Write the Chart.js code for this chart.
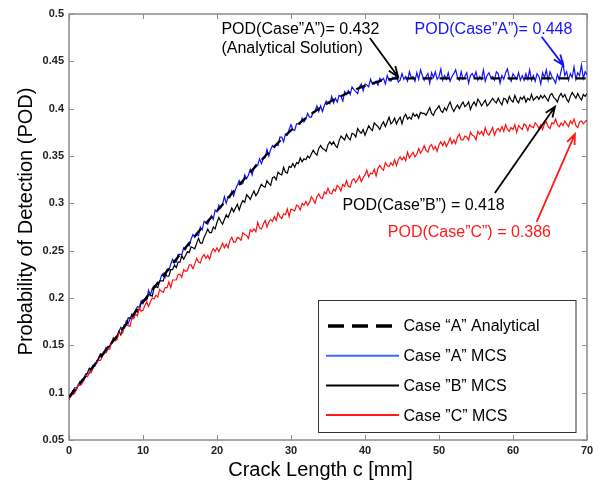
<!DOCTYPE html>
<html>
<head>
<meta charset="utf-8">
<script src="https://cdn.jsdelivr.net/npm/chart.js@4/dist/chart.umd.min.js"></script>
<style>
  body { margin: 0; background: #fff; }
  canvas { display: block; }
</style>
</head>
<body>
<canvas id="chart" width="598" height="482"></canvas>
<script>
// crack length grid of the MCS runs, 0.25 mm apart
const crackLen = [];
for (let i = 0; i <= 280; i++) crackLen.push(i / 4);

// analytical solution, case "A"
const anaLen = [0, 2.5, 5, 7.5, 10, 12.5, 15, 17.5, 20, 22.5, 25, 27.5, 30, 32.5, 35, 37.5, 40, 42.5, 45, 50, 55, 60, 65, 70];
const anaPOD = [0.095, 0.120, 0.145, 0.170, 0.196, 0.221, 0.246, 0.270, 0.292, 0.315, 0.337, 0.358, 0.377, 0.393, 0.406, 0.416, 0.424, 0.430, 0.432, 0.432, 0.432, 0.432, 0.432, 0.432];

// MCS results
const podA = [
  0.095, 0.096, 0.101, 0.105, 0.105, 0.108, 0.108, 0.114,
  0.114, 0.120, 0.120, 0.121, 0.125, 0.129, 0.128, 0.134,
  0.135, 0.140, 0.139, 0.143, 0.148, 0.146, 0.150, 0.152,
  0.157, 0.155, 0.160, 0.165, 0.169, 0.167, 0.168, 0.176,
  0.173, 0.178, 0.183, 0.179, 0.187, 0.191, 0.190, 0.197,
  0.194, 0.199, 0.199, 0.208, 0.203, 0.210, 0.213, 0.213,
  0.216, 0.217, 0.224, 0.226, 0.222, 0.230, 0.229, 0.236,
  0.241, 0.238, 0.238, 0.246, 0.246, 0.246, 0.253, 0.251,
  0.256, 0.255, 0.262, 0.267, 0.264, 0.267, 0.266, 0.275,
  0.272, 0.281, 0.280, 0.278, 0.283, 0.287, 0.283, 0.293,
  0.291, 0.298, 0.295, 0.299, 0.307, 0.300, 0.307, 0.306,
  0.313, 0.308, 0.315, 0.319, 0.324, 0.320, 0.321, 0.330,
  0.326, 0.330, 0.336, 0.330, 0.338, 0.341, 0.340, 0.347,
  0.342, 0.347, 0.348, 0.357, 0.350, 0.357, 0.361, 0.359,
  0.362, 0.361, 0.370, 0.370, 0.365, 0.373, 0.372, 0.378,
  0.383, 0.378, 0.377, 0.384, 0.384, 0.384, 0.390, 0.386,
  0.389, 0.395, 0.391, 0.391, 0.397, 0.397, 0.403, 0.397,
  0.403, 0.397, 0.403, 0.408, 0.406, 0.405, 0.413, 0.406,
  0.411, 0.407, 0.414, 0.413, 0.408, 0.418, 0.415, 0.419,
  0.415, 0.423, 0.420, 0.418, 0.416, 0.423, 0.426, 0.419,
  0.426, 0.425, 0.423, 0.431, 0.426, 0.426, 0.429, 0.425,
  0.432, 0.430, 0.432, 0.426, 0.435, 0.430, 0.429, 0.433,
  0.432, 0.435, 0.428, 0.430, 0.437, 0.431, 0.434, 0.429,
  0.439, 0.433, 0.434, 0.429, 0.438, 0.431, 0.441, 0.435,
  0.430, 0.434, 0.437, 0.427, 0.438, 0.433, 0.439, 0.431,
  0.434, 0.442, 0.430, 0.435, 0.431, 0.438, 0.429, 0.434,
  0.437, 0.441, 0.433, 0.430, 0.439, 0.431, 0.434, 0.438,
  0.427, 0.435, 0.437, 0.433, 0.439, 0.430, 0.434, 0.431,
  0.441, 0.429, 0.435, 0.438, 0.433, 0.434, 0.430, 0.439,
  0.437, 0.427, 0.435, 0.431, 0.438, 0.442, 0.433, 0.429,
  0.437, 0.434, 0.431, 0.438, 0.430, 0.435, 0.430, 0.437,
  0.431, 0.441, 0.430, 0.435, 0.429, 0.437, 0.434, 0.426,
  0.438, 0.433, 0.441, 0.430, 0.439, 0.434, 0.431, 0.427,
  0.436, 0.431, 0.440, 0.448, 0.435, 0.439, 0.430, 0.437,
  0.433, 0.444, 0.431, 0.438, 0.435, 0.446, 0.432, 0.439,
  0.436
];

const podB = [
  0.096, 0.098, 0.102, 0.103, 0.103, 0.108, 0.112, 0.112,
  0.113, 0.118, 0.121, 0.126, 0.125, 0.126, 0.130, 0.132,
  0.137, 0.141, 0.140, 0.141, 0.145, 0.149, 0.148, 0.153,
  0.158, 0.156, 0.160, 0.165, 0.161, 0.167, 0.172, 0.171,
  0.179, 0.179, 0.178, 0.183, 0.187, 0.185, 0.188, 0.194,
  0.198, 0.197, 0.198, 0.204, 0.203, 0.202, 0.211, 0.212,
  0.211, 0.218, 0.218, 0.218, 0.226, 0.223, 0.223, 0.230,
  0.230, 0.235, 0.232, 0.238, 0.238, 0.245, 0.241, 0.245,
  0.249, 0.248, 0.254, 0.253, 0.252, 0.258, 0.263, 0.258,
  0.258, 0.264, 0.268, 0.273, 0.269, 0.269, 0.275, 0.273,
  0.280, 0.285, 0.281, 0.278, 0.283, 0.288, 0.285, 0.290,
  0.295, 0.291, 0.295, 0.299, 0.293, 0.299, 0.303, 0.301,
  0.309, 0.307, 0.304, 0.309, 0.313, 0.308, 0.311, 0.316,
  0.320, 0.318, 0.317, 0.324, 0.321, 0.319, 0.327, 0.328,
  0.325, 0.333, 0.331, 0.330, 0.338, 0.333, 0.332, 0.339,
  0.338, 0.342, 0.338, 0.343, 0.342, 0.348, 0.344, 0.347,
  0.346, 0.350, 0.348, 0.352, 0.356, 0.353, 0.351, 0.358,
  0.361, 0.358, 0.357, 0.355, 0.362, 0.365, 0.362, 0.365,
  0.361, 0.359, 0.366, 0.371, 0.369, 0.367, 0.373, 0.369,
  0.367, 0.374, 0.373, 0.370, 0.379, 0.376, 0.374, 0.378,
  0.372, 0.377, 0.382, 0.379, 0.377, 0.385, 0.383, 0.381,
  0.378, 0.383, 0.386, 0.381, 0.386, 0.391, 0.384, 0.386,
  0.390, 0.384, 0.388, 0.391, 0.384, 0.391, 0.394, 0.389,
  0.391, 0.389, 0.395, 0.392, 0.394, 0.390, 0.396, 0.395,
  0.395, 0.393, 0.397, 0.401, 0.395, 0.393, 0.398, 0.400,
  0.403, 0.398, 0.396, 0.401, 0.398, 0.403, 0.407, 0.401,
  0.397, 0.401, 0.404, 0.400, 0.404, 0.407, 0.402, 0.404,
  0.407, 0.399, 0.404, 0.407, 0.403, 0.410, 0.407, 0.403,
  0.406, 0.409, 0.403, 0.405, 0.408, 0.411, 0.408, 0.406,
  0.411, 0.407, 0.404, 0.411, 0.410, 0.406, 0.413, 0.409,
  0.407, 0.414, 0.409, 0.406, 0.412, 0.410, 0.413, 0.407,
  0.411, 0.409, 0.415, 0.409, 0.411, 0.413, 0.410, 0.414,
  0.411, 0.414, 0.411, 0.408, 0.414, 0.416, 0.412, 0.410,
  0.407, 0.413, 0.416, 0.412, 0.415, 0.410, 0.407, 0.413,
  0.417, 0.414, 0.411, 0.416, 0.412, 0.409, 0.415, 0.413,
  0.416
];

const podC = [
  0.092, 0.098, 0.098, 0.099, 0.103, 0.108, 0.108, 0.109,
  0.114, 0.118, 0.117, 0.121, 0.121, 0.126, 0.130, 0.131,
  0.134, 0.134, 0.138, 0.143, 0.142, 0.146, 0.146, 0.153,
  0.157, 0.155, 0.156, 0.163, 0.163, 0.163, 0.171, 0.171,
  0.171, 0.170, 0.179, 0.179, 0.183, 0.181, 0.190, 0.186,
  0.187, 0.192, 0.196, 0.191, 0.196, 0.200, 0.199, 0.203,
  0.201, 0.209, 0.207, 0.206, 0.211, 0.211, 0.217, 0.211,
  0.219, 0.219, 0.219, 0.225, 0.225, 0.222, 0.230, 0.228,
  0.229, 0.235, 0.235, 0.231, 0.236, 0.242, 0.238, 0.237,
  0.243, 0.246, 0.242, 0.245, 0.241, 0.248, 0.252, 0.249,
  0.253, 0.249, 0.253, 0.258, 0.253, 0.257, 0.253, 0.261,
  0.264, 0.259, 0.259, 0.264, 0.263, 0.261, 0.269, 0.267,
  0.266, 0.263, 0.272, 0.270, 0.273, 0.270, 0.280, 0.274,
  0.273, 0.278, 0.282, 0.275, 0.280, 0.283, 0.281, 0.286,
  0.282, 0.290, 0.286, 0.284, 0.289, 0.288, 0.294, 0.286,
  0.294, 0.293, 0.292, 0.298, 0.297, 0.293, 0.300, 0.298,
  0.302, 0.298, 0.301, 0.307, 0.304, 0.300, 0.307, 0.310,
  0.306, 0.305, 0.312, 0.310, 0.316, 0.311, 0.310, 0.315,
  0.313, 0.319, 0.317, 0.313, 0.320, 0.318, 0.324, 0.318,
  0.317, 0.324, 0.326, 0.322, 0.325, 0.329, 0.323, 0.327,
  0.330, 0.335, 0.328, 0.332, 0.331, 0.336, 0.329, 0.337,
  0.340, 0.337, 0.335, 0.343, 0.340, 0.339, 0.343, 0.340,
  0.346, 0.340, 0.346, 0.349, 0.346, 0.349, 0.345, 0.354,
  0.348, 0.351, 0.354, 0.349, 0.352, 0.358, 0.353, 0.356,
  0.361, 0.356, 0.354, 0.360, 0.362, 0.357, 0.360, 0.355,
  0.362, 0.365, 0.361, 0.365, 0.360, 0.364, 0.369, 0.363,
  0.367, 0.363, 0.370, 0.373, 0.367, 0.367, 0.371, 0.370,
  0.367, 0.375, 0.372, 0.371, 0.367, 0.376, 0.373, 0.376,
  0.372, 0.380, 0.374, 0.372, 0.376, 0.380, 0.372, 0.377,
  0.379, 0.376, 0.381, 0.376, 0.383, 0.378, 0.376, 0.380,
  0.378, 0.383, 0.375, 0.382, 0.380, 0.378, 0.384, 0.382,
  0.377, 0.383, 0.381, 0.380, 0.385, 0.383, 0.379, 0.383,
  0.378, 0.384, 0.386, 0.381, 0.379, 0.385, 0.384, 0.389,
  0.383, 0.381, 0.385, 0.382, 0.387, 0.384, 0.381, 0.387,
  0.384, 0.389, 0.382, 0.380, 0.386, 0.387, 0.384, 0.386,
  0.388
];

const xTicks = [0, 10, 20, 30, 40, 50, 60, 70];
const yTicks = [0.05, 0.1, 0.15, 0.2, 0.25, 0.3, 0.35, 0.4, 0.45, 0.5];

const legendItems = [
  { label: "Case \u201cA\u201d Analytical", color: "#000", width: 3.5, dash: [16, 8] },
  { label: "Case \u201dA\u201d MCS", color: "#3b6cff", width: 2, dash: [] },
  { label: "Case \u201dB\u201d MCS", color: "#000", width: 2, dash: [] },
  { label: "Case \u201dC\u201d MCS", color: "#ff1a1a", width: 2, dash: [] }
];

// annotation texts and arrows, placed in data units
const notes = [
  { lines: ["POD(Case\u201dA\u201d)= 0.432", "(Analytical Solution)"], x: 20.6, y: 0.484, color: "#000", from: [40.65, 0.4746], to: [44.47, 0.4338] },
  { lines: ["POD(Case\u201dA\u201d)= 0.448"], x: 46.7, y: 0.484, color: "#1414ff", from: [63.87, 0.476], to: [66.79, 0.446] },
  { lines: ["POD(Case\u201dB\u201d) = 0.418"], x: 36.95, y: 0.298, color: "#000", from: [57.55, 0.311], to: [65.67, 0.402] },
  { lines: ["POD(Case\u201dC\u201d) = 0.386"], x: 43.08, y: 0.2687, color: "#ff1a1a", from: [63.2, 0.2803], to: [68.37, 0.3732] }
];

const FONT = "Arial, 'Liberation Sans', sans-serif";

function toPts(xs, ys) {
  return xs.map((x, i) => ({ x: x, y: ys[i] }));
}

function drawArrow(ctx, x0, y0, x1, y1, color) {
  const ang = Math.atan2(y1 - y0, x1 - x0);
  const len = 11;
  ctx.strokeStyle = color;
  ctx.lineWidth = 1.8;
  ctx.setLineDash([]);
  ctx.beginPath();
  ctx.moveTo(x0, y0);
  ctx.lineTo(x1, y1);
  ctx.moveTo(x1 - len * Math.cos(ang - 0.38), y1 - len * Math.sin(ang - 0.38));
  ctx.lineTo(x1, y1);
  ctx.lineTo(x1 - len * Math.cos(ang + 0.38), y1 - len * Math.sin(ang + 0.38));
  ctx.stroke();
}

const framePlugin = {
  id: "frame",
  beforeDatasetsDraw(chart) {
    const { ctx, chartArea: a, scales: { x, y } } = chart;
    ctx.save();
    ctx.strokeStyle = "#8c8c8c";
    ctx.lineWidth = 1.5;
    ctx.strokeRect(a.left, a.top, a.right - a.left, a.bottom - a.top);
    ctx.lineWidth = 1;
    ctx.beginPath();
    xTicks.forEach(v => {
      const px = Math.round(x.getPixelForValue(v)) + 0.5;
      ctx.moveTo(px, a.bottom); ctx.lineTo(px, a.bottom - 5);
      ctx.moveTo(px, a.top); ctx.lineTo(px, a.top + 5);
    });
    yTicks.forEach(v => {
      const py = Math.round(y.getPixelForValue(v)) + 0.5;
      ctx.moveTo(a.left, py); ctx.lineTo(a.left + 5, py);
      ctx.moveTo(a.right, py); ctx.lineTo(a.right - 5, py);
    });
    ctx.stroke();
    ctx.restore();
  },
  afterDraw(chart) {
    const { ctx, scales: { x, y } } = chart;
    ctx.save();

    // legend box
    ctx.fillStyle = "#fff";
    ctx.fillRect(318.5, 300.5, 257.5, 132);
    ctx.strokeStyle = "#333";
    ctx.lineWidth = 1;
    ctx.strokeRect(318.5, 300.5, 257.5, 132);
    ctx.font = "16px " + FONT;
    ctx.textBaseline = "middle";
    ctx.textAlign = "left";
    legendItems.forEach((it, i) => {
      const ly = 326 + i * 29.7;
      ctx.strokeStyle = it.color;
      ctx.lineWidth = it.width;
      ctx.setLineDash(it.dash);
      ctx.beginPath();
      if (it.dash.length) { ctx.moveTo(328, ly); ctx.lineTo(393, ly); }
      else { ctx.moveTo(326, ly); ctx.lineTo(399, ly); }
      ctx.stroke();
      ctx.setLineDash([]);
      ctx.fillStyle = "#000";
      ctx.fillText(it.label, 403.5, ly + 1);
    });

    // annotations
    notes.forEach(n => {
      ctx.fillStyle = n.color;
      ctx.font = "16px " + FONT;
      const tx = x.getPixelForValue(n.x);
      const ty = y.getPixelForValue(n.y);
      n.lines.forEach((t, i) => ctx.fillText(t, tx, ty + i * 19));
      drawArrow(ctx,
        x.getPixelForValue(n.from[0]), y.getPixelForValue(n.from[1]),
        x.getPixelForValue(n.to[0]), y.getPixelForValue(n.to[1]), n.color);
    });

    // axis titles
    ctx.fillStyle = "#000";
    ctx.font = "20px " + FONT;
    ctx.textAlign = "center";
    ctx.fillText("Crack Length c [mm]", 320.5, 470);
    ctx.translate(26, 221.5);
    ctx.rotate(-Math.PI / 2);
    ctx.fillText("Probability of Detection (POD)", 0, 0);
    ctx.restore();
  }
};

const tickFont = { family: FONT, size: 11, weight: "bold" };

new Chart(document.getElementById("chart"), {
  type: "line",
  data: {
    datasets: [
      {
        label: legendItems[0].label,
        data: toPts(anaLen, anaPOD),
        borderColor: "#000",
        borderWidth: 2.3,
        borderDash: [10, 7],
        pointRadius: 0,
        cubicInterpolationMode: "monotone",
        order: 0
      },
      {
        label: legendItems[3].label,
        data: toPts(crackLen, podC),
        borderColor: "#ff1010",
        borderWidth: 1.2,
        pointRadius: 0,
        order: 1
      },
      {
        label: legendItems[2].label,
        data: toPts(crackLen, podB),
        borderColor: "#000",
        borderWidth: 1.2,
        pointRadius: 0,
        order: 2
      },
      {
        label: legendItems[1].label,
        data: toPts(crackLen, podA),
        borderColor: "#1010ff",
        borderWidth: 1.2,
        pointRadius: 0,
        order: 3
      }
    ]
  },
  options: {
    responsive: false,
    animation: false,
    devicePixelRatio: 1,
    layout: { padding: { top: 14, right: 11, left: 0, bottom: 0 } },
    plugins: { legend: { display: false }, tooltip: { enabled: false } },
    scales: {
      x: {
        type: "linear",
        min: 0,
        max: 70,
        grid: { display: false, drawTicks: false },
        border: { display: false },
        ticks: { stepSize: 10, font: tickFont, color: "#222", padding: 4, maxRotation: 0 },
        afterFit: s => { s.height = 42; }
      },
      y: {
        min: 0.05,
        max: 0.5,
        grid: { display: false, drawTicks: false },
        border: { display: false },
        ticks: {
          stepSize: 0.05,
          font: tickFont,
          color: "#222",
          padding: 5,
          callback: v => String(+v.toFixed(2))
        },
        afterFit: s => { s.width = 69; }
      }
    }
  },
  plugins: [framePlugin]
});
</script>
</body>
</html>
